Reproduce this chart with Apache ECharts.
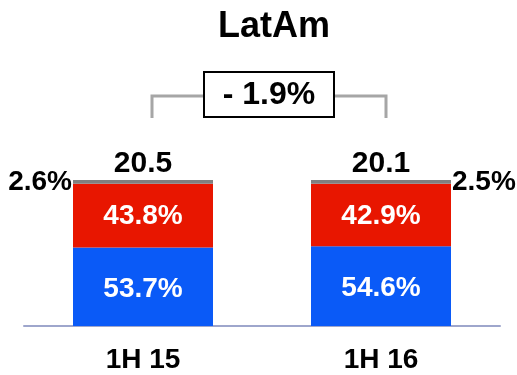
<!DOCTYPE html>
<html>
<head>
<meta charset="utf-8">
<script src="https://cdn.jsdelivr.net/npm/echarts@6/dist/echarts.min.js"></script>
<style>
  html, body { margin: 0; padding: 0; background: #fff; }
  #chart { width: 517px; height: 375px; }
</style>
</head>
<body>
<div id="chart"></div>
<script>
// Half-year periods
var categories = ['1H 15', '1H 16'];
// Share of total (%) by segment, stacked to 100
var bottomShare = [53.7, 54.6];
var middleShare = [43.8, 42.9];
var topShare = [2.6, 2.5];
// Totals shown above each column
var totals = [20.5, 20.1];
// Change between the two periods
var changeLabel = '- 1.9%';

var FONT = '"Liberation Sans", Arial, sans-serif';

var chart = echarts.init(document.getElementById('chart'), null, { renderer: 'canvas' });

function pctLabel(p) { return p.value.toFixed(1) + '%'; }

var option = {
  animation: false,
  backgroundColor: '#ffffff',
  title: {
    text: 'LatAm',
    left: 213,
    top: 4,
    textStyle: { fontFamily: FONT, fontWeight: 'bold', fontSize: 36, color: '#000' }
  },
  grid: { left: 24, right: 17, top: 180, bottom: 49 },
  xAxis: {
    type: 'category',
    data: categories,
    axisTick: { show: false },
    axisLine: { show: true, lineStyle: { color: '#9ea6cc', width: 2 } },
    axisLabel: {
      margin: 20,
      fontFamily: FONT, fontWeight: 'bold', fontSize: 28, color: '#000'
    }
  },
  yAxis: {
    type: 'value', min: 0, max: 100, show: false,
    splitLine: { show: false }
  },
  series: [
    {
      name: 'bottom', type: 'bar', stack: 'total', barWidth: 140,
      data: bottomShare,
      itemStyle: { color: '#0a5af7' },
      label: {
        show: true, position: 'inside', offset: [0, 2], formatter: pctLabel,
        fontFamily: FONT, fontWeight: 'bold', fontSize: 28, color: '#fff'
      }
    },
    {
      name: 'middle', type: 'bar', stack: 'total', barWidth: 140,
      data: middleShare,
      itemStyle: { color: '#e81600' },
      label: {
        show: true, position: 'inside', offset: [0, 1], formatter: pctLabel,
        fontFamily: FONT, fontWeight: 'bold', fontSize: 28, color: '#fff'
      }
    },
    {
      name: 'top', type: 'bar', stack: 'total', barWidth: 140,
      data: topShare.map(function (v, i) {
        return {
          value: v,
          label: { position: i === 0 ? 'left' : 'right', distance: 1 }
        };
      }),
      itemStyle: { color: '#808080' },
      label: {
        show: true, formatter: pctLabel,
        fontFamily: FONT, fontWeight: 'bold', fontSize: 28, color: '#000'
      }
    },
    {
      name: 'total', type: 'scatter', symbolSize: 0,
      itemStyle: { opacity: 1, color: '#000' },
      data: totals.map(function (t, i) { return [categories[i], 100, t]; }),
      label: {
        show: true, position: 'top', distance: 1,
        formatter: function (p) { return p.value[2].toFixed(1); },
        fontFamily: FONT, fontWeight: 'bold', fontSize: 30, color: '#000'
      }
    }
  ]
};

chart.setOption(option);

// Bracket linking the two columns with the change box
var p1 = chart.convertToPixel({ seriesIndex: 0 }, [0, 0]);
var p2 = chart.convertToPixel({ seriesIndex: 0 }, [1, 0]);
var x1 = p1[0] + 9, x2 = p2[0] + 5;
var midX = (x1 + x2) / 2;
var boxW = 130, boxH = 45, boxY = 72, lineY = 96, tipY = 118;
chart.setOption({
  graphic: [
    {
      type: 'polyline', silent: true,
      shape: { points: [[x1, tipY], [x1, lineY], [midX - boxW / 2, lineY]] },
      style: { stroke: '#a6a6a6', lineWidth: 3, fill: null }
    },
    {
      type: 'polyline', silent: true,
      shape: { points: [[midX + boxW / 2, lineY], [x2, lineY], [x2, tipY]] },
      style: { stroke: '#a6a6a6', lineWidth: 3, fill: null }
    },
    {
      type: 'rect', silent: true,
      shape: { x: midX - boxW / 2, y: boxY, width: boxW, height: boxH },
      style: { fill: '#fff', stroke: '#000', lineWidth: 2 }
    },
    {
      type: 'text', silent: true,
      x: midX, y: boxY + boxH / 2 + 1,
      style: {
        text: changeLabel, align: 'center', verticalAlign: 'middle',
        font: 'bold 32px ' + FONT, fill: '#000'
      }
    }
  ]
});
</script>
</body>
</html>
